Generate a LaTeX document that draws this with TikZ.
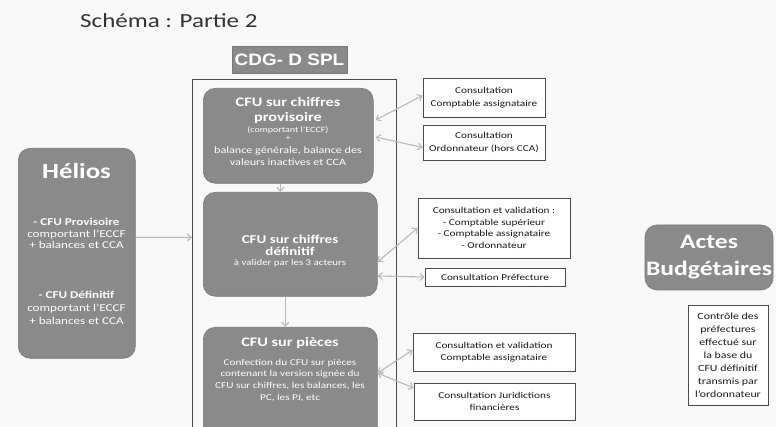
\documentclass[tikz,border=0pt]{standalone}
\usepackage{fontspec}
\setmainfont{Carlito}[FakeStretch=1.25]
\newfontfamily\arialfont{Liberation Sans}[FakeStretch=1.15]
\usetikzlibrary{arrows.meta}
\definecolor{boxgray}{HTML}{8A8A8A}
\definecolor{boxedge}{HTML}{777777}
\definecolor{arrowgray}{HTML}{B8B8B8}
\definecolor{linegray}{HTML}{4A4A4A}
\definecolor{bgcol}{HTML}{F8F8F8}
\newcommand{\fsz}[2]{\fontsize{#1}{#2}\selectfont}
\begin{document}
\begin{tikzpicture}[x=1pt,y=-1pt,
  graybox/.style={draw=boxedge, fill=boxgray, rounded corners=12pt, inner sep=0pt, line width=0.6pt},
  wbox/.style={draw=linegray, fill=white, inner sep=0pt, line width=0.7pt, align=center, text=black!90, font=\fsz{9}{12.5}},
  wtxt/.style={text=white, inner sep=0pt, anchor=base},
  conn/.style={draw=arrowgray, line width=1.1pt, {Straight Barb[length=4pt,width=7pt]}-{Straight Barb[length=4pt,width=7pt]}},
  conn1/.style={draw=arrowgray, line width=1.1pt, -{Straight Barb[length=4pt,width=7pt]}},
]
\fill[bgcol] (0,0) rectangle (776,427);
\useasboundingbox (0,0) rectangle (776,427);
\clip (0,0) rectangle (776,427);

% title
\node[anchor=base west, inner sep=0pt, text=black!80, font=\fsz{20}{24}] (title) at (80,28) {Schéma : Partie 2};

% CDG header
\node[fill=boxgray, draw=boxedge, line width=0.6pt, minimum width=115pt, minimum height=27pt, inner sep=0pt, text=white, font=\arialfont\bfseries\fsz{16.5}{20}] (cdg) at (289.5,59.5) {CDG- D SPL};

% outer frame
\node[draw=linegray, line width=0.8pt, anchor=north west, minimum width=204pt, minimum height=361pt, inner sep=0pt] (outer) at (192,79) {};

% box 1
\node[graybox, anchor=north west, minimum width=170pt, minimum height=95pt] (b1) at (203,88) {};
\node[wtxt, font=\bfseries\fsz{13}{15}] (b1a) at (288,106.5) {CFU sur chiffres};
\node[wtxt, font=\bfseries\fsz{13}{15}] (b1b) at (288,121.5) {provisoire};
\node[wtxt, font=\fsz{8}{10}] (b1c) at (288,132.5) {(comportant l'ECCF)};
\node[wtxt, font=\fsz{8}{10}] (b1d) at (288,141) {+};
\node[wtxt, font=\fsz{9.7}{12}] (b1e) at (288,153.5) {balance générale, balance des};
\node[wtxt, font=\fsz{9.7}{12}] (b1f) at (288,165.5) {valeurs inactives et CCA};

% box 2
\node[graybox, anchor=north west, minimum width=174pt, minimum height=104pt] (b2) at (203,192) {};
\node[wtxt, font=\bfseries\fsz{12}{15}] (b2a) at (290,243.5) {CFU sur chiffres};
\node[wtxt, font=\bfseries\fsz{12}{15}] (b2b) at (290,256) {définitif};
\node[wtxt, font=\fsz{8.7}{11}] (b2c) at (290,266) {à valider par les 3 acteurs};

% box 3
\node[graybox, anchor=north west, minimum width=174pt, minimum height=113pt] (b3) at (203,327) {};
\node[wtxt, font=\bfseries\fsz{13}{15}] (b3a) at (290,347) {CFU sur pièces};
\node[wtxt, font=\fsz{9}{12}] (b3b) at (290,365.5) {Confection du CFU sur pièces};
\node[wtxt, font=\fsz{9}{12}] (b3c) at (290,377) {contenant la version signée du};
\node[wtxt, font=\fsz{9}{12}] (b3d) at (290,388.5) {CFU sur chiffres, les balances, les};
\node[wtxt, font=\fsz{9}{12}] (b3e) at (290,400) {PC, les PJ, etc};

% Helios
\node[graybox, anchor=north west, minimum width=117pt, minimum height=210pt] (hel) at (18,148) {};
\node[wtxt, font=\bfseries\fsz{21.5}{24}] (hela) at (76.5,178.5) {Hélios};
\node[wtxt, font=\bfseries\fsz{10.5}{12}] (helb) at (76.5,225.5) {- CFU Provisoire};
\node[wtxt, font=\fsz{10.5}{12}] (helc) at (76.5,237.5) {comportant l'ECCF};
\node[wtxt, font=\fsz{10.5}{12}] (held) at (76.5,248.5) {+ balances et CCA};
\node[wtxt, font=\bfseries\fsz{10.5}{12}] (hele) at (76.5,298.5) {- CFU Définitif};
\node[wtxt, font=\fsz{10.5}{12}] (helf) at (76.5,311.5) {comportant l'ECCF};
\node[wtxt, font=\fsz{10.5}{12}] (helg) at (76.5,324.5) {+ balances et CCA};

% right boxes
\node[wbox, minimum width=122pt, minimum height=39pt] (ra) at (484,97.5) {Consultation\\Comptable assignataire};
\node[wbox, minimum width=122pt, minimum height=35pt] (rb) at (484,142.5) {Consultation\\Ordonnateur (hors CCA)};
\node[wbox, minimum width=152pt, minimum height=60pt, font=\fsz{9}{11.5}] (rc) at (494,228) {Consultation et validation :\\- Comptable supérieur\\- Comptable assignataire\\- Ordonnateur};
\node[wbox, minimum width=140pt, minimum height=18pt] (rd) at (495,277) {Consultation Préfecture};
\node[wbox, minimum width=162pt, minimum height=38pt] (re) at (494,352) {Consultation et validation\\Comptable assignataire};
\node[wbox, minimum width=161pt, minimum height=37pt] (rf) at (494.5,401.5) {Consultation Juridictions\\financières};

% Actes budgetaires
\node[graybox, minimum width=128pt, minimum height=65pt, text=white, align=center, font=\bfseries\fsz{20.5}{27}] (actes) at (709,257.5) {Actes\\Budgétaires};
\node[wbox, minimum width=80pt, minimum height=100pt, font=\fsz{9.5}{13}] (ctrl) at (728,355) {Contrôle des\\préfectures\\effectué sur\\la base du\\CFU définitif\\transmis par\\l'ordonnateur};

% connectors
\draw[conn1] ([yshift=16pt]hel.east) -- ([yshift=22.5pt]outer.west);
\draw[conn1] ([xshift=-8pt]b1.south) -- ([xshift=-10pt]b2.north);
\draw[conn1] ([xshift=-5pt]b2.south) -- ([xshift=-5pt]b3.north);
\draw[conn] ([yshift=-32pt,xshift=2pt]b1.north east) -- ([yshift=2pt]ra.west);
\draw[conn] ([yshift=-49pt,xshift=2pt]b1.north east) -- ([yshift=-5pt]rb.west);
\draw[conn] ([yshift=-70pt]b2.north east) -- (rc.west);
\draw[conn] ([yshift=-84pt]b2.north east) -- (rd.west);
\draw[conn] ([yshift=-46pt]b3.north east) -- ([yshift=2pt]re.west);
\draw[conn] ([yshift=-46pt]b3.north east) -- ([yshift=13.5pt]rf.west);
\end{tikzpicture}
\end{document}
